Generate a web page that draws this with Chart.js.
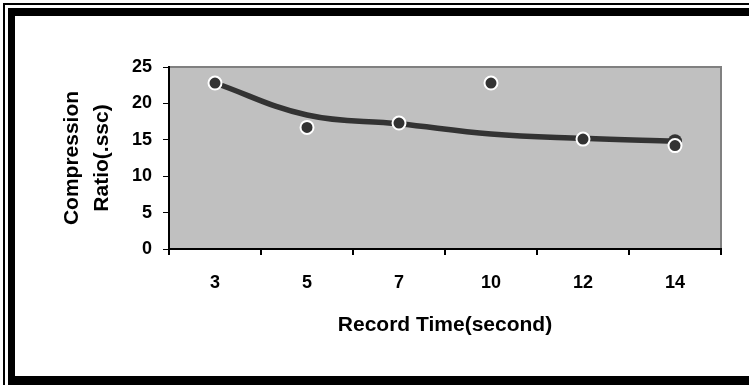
<!DOCTYPE html>
<html>
<head>
    <title>Compression Ratio vs Record Time</title>
    <script src="https://cdn.jsdelivr.net/npm/chart.js"></script>
    <style>
        body {
            margin: 0;
            background-color: #fff;
        }
        #wrap {
            position: absolute;
            left: 0;
            top: 0;
            width: 749px;
            height: 385px;
        }
        .frame {
            position: absolute;
            background-color: #000;
        }
    </style>
</head>
<body>
    <div id="wrap">
        <canvas id="ratioChart"></canvas>
    </div>
    <!-- marco negro alrededor de la figura -->
    <div class="frame" style="left:3px; top:3px; width:746px; height:2px;"></div>
    <div class="frame" style="left:3px; top:3px; width:2px; height:382px;"></div>
    <div class="frame" style="left:8px; top:8px; width:741px; height:8px;"></div>
    <div class="frame" style="left:8px; top:8px; width:7px; height:377px;"></div>
    <div class="frame" style="left:8px; top:376px; width:741px; height:9px;"></div>

    <script>
        // datos
        const recordTimes = ['3', '5', '7', '10', '12', '14'];
        const measuredRatio = [22.8, 16.7, 17.3, 22.8, 15.1, 14.2];
        const trendRatio = [22.8, 18.4, 17.2, 15.8, 15.2, 14.8];
        const yTicks = [0, 5, 10, 15, 20, 25];
        const yTitle = ['Compression', 'Ratio(.ssc)'];
        const xTitle = 'Record Time(second)';

        Chart.defaults.font.family = '"Liberation Sans", Arial, sans-serif';
        Chart.defaults.color = '#000';

        // fondo gris del area de trazado
        const plotBackground = {
            id: 'plotBackground',
            beforeDraw(chart) {
                const { ctx, chartArea } = chart;
                ctx.save();
                ctx.fillStyle = '#c0c0c0';
                ctx.fillRect(chartArea.left, chartArea.top, chartArea.right - chartArea.left, chartArea.bottom - chartArea.top);
                ctx.strokeStyle = '#808080';
                ctx.lineWidth = 2;
                ctx.beginPath();
                ctx.moveTo(chartArea.left, chartArea.top);
                ctx.lineTo(chartArea.right, chartArea.top);
                ctx.lineTo(chartArea.right, chartArea.bottom);
                ctx.stroke();
                ctx.restore();
            }
        };

        const ctx = document.getElementById('ratioChart').getContext('2d');
        new Chart(ctx, {
            type: 'line',
            data: {
                labels: recordTimes,
                datasets: [
                    {
                        label: 'Measured',
                        data: measuredRatio,
                        showLine: false,
                        pointRadius: 6.5,
                        pointHoverRadius: 6.5,
                        pointBackgroundColor: '#333333',
                        pointBorderColor: '#ffffff',
                        pointBorderWidth: 2
                    },
                    {
                        label: 'Trend',
                        data: trendRatio,
                        borderColor: '#333333',
                        borderWidth: 5.5,
                        tension: 0.4,
                        pointRadius: (c) => c.dataIndex === trendRatio.length - 1 ? 7 : 0,
                        pointBackgroundColor: '#333333',
                        pointBorderWidth: 0
                    }
                ]
            },
            options: {
                responsive: true,
                maintainAspectRatio: false,
                animation: false,
                layout: {
                    padding: { left: 30, top: 67, right: 28, bottom: 40 }
                },
                plugins: {
                    legend: { display: false },
                    tooltip: { enabled: false }
                },
                scales: {
                    x: {
                        type: 'category',
                        offset: true,
                        grid: {
                            display: true,
                            offset: true,
                            drawOnChartArea: false,
                            drawTicks: true,
                            tickLength: 6,
                            color: '#000',
                            lineWidth: 2
                        },
                        border: { display: true, color: '#000', width: 2 },
                        ticks: {
                            padding: 17,
                            font: { size: 18, weight: 'bold' }
                        },
                        title: {
                            display: true,
                            text: xTitle,
                            font: { size: 21, weight: 'bold' },
                            padding: { top: 0, bottom: 7 }
                        },
                        afterFit(scale) {
                            scale.height = 96;
                        }
                    },
                    y: {
                        min: 0,
                        max: 25,
                        afterBuildTicks(scale) {
                            scale.ticks = yTicks.map(v => ({ value: v }));
                        },
                        grid: {
                            display: true,
                            drawOnChartArea: false,
                            drawTicks: true,
                            tickLength: 6,
                            color: '#000',
                            lineWidth: 1
                        },
                        border: { display: true, color: '#000', width: 2 },
                        ticks: {
                            padding: 11,
                            font: { size: 18, weight: 'bold' }
                        },
                        title: {
                            display: true,
                            text: yTitle,
                            font: { size: 21, weight: 'bold', lineHeight: 1.45 },
                            padding: { top: 27, bottom: 0 }
                        },
                        afterFit(scale) {
                            scale.width = 139;
                        }
                    }
                }
            },
            plugins: [plotBackground]
        });
    </script>
</body>
</html>
